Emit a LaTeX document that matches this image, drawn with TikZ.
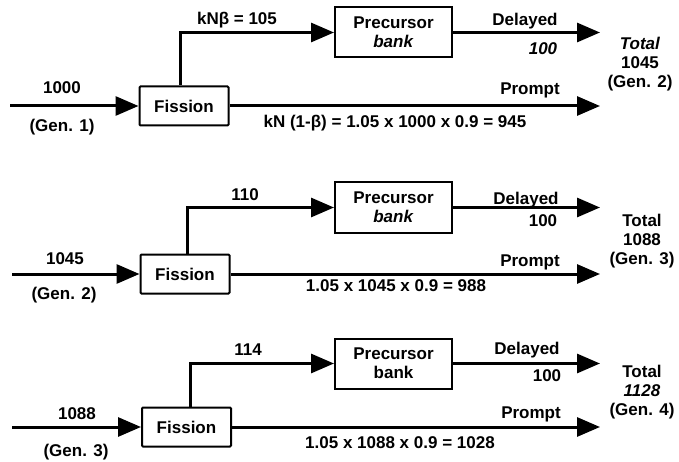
\documentclass[tikz,border=0pt]{standalone}
\usepackage{fontspec}
\setmainfont{Liberation Sans}
\usetikzlibrary{arrows.meta}
\begin{document}
\begin{tikzpicture}[x=1pt,y=-1pt,
  every node/.style={font=\fontsize{17}{19}\selectfont\bfseries},
  blk/.style={draw, line width=2pt, minimum height=39pt, minimum width=89pt, inner sep=0pt, rounded corners=1pt},
  pbox/.style={draw, line width=2pt, minimum height=50pt, minimum width=117pt, align=center, inner sep=0pt},
  flow/.style={line width=3pt, -{Triangle[length=23pt,width=19pt]}},
  lbl/.style={inner sep=0pt},
  tot/.style={inner sep=0pt, align=center}
]
\useasboundingbox (0,0) rectangle (679,462);
% ---------- Row 1 ----------
\node[blk] (f1) at (184,106) {Fission};
\node[pbox] (p1) at (393.5,32.5) {Precursor\\\textit{bank}};
\coordinate (i1) at (10,106);
\coordinate (b1) at (180,0);
\coordinate (d1) at (600,32.5);
\coordinate (o1) at (600,106);
\draw[flow] (i1) -- (f1.west);
\draw[flow] (f1.north -| b1) |- (p1.west);
\draw[flow] (p1.east) -- (d1);
\draw[flow] (f1.east) -- (o1);
\node[lbl] (l1a) at (237,20) {kNβ = 105};
\node[lbl] (l1b) at (62,88) {1000};
\node[lbl] (l1c) at (62,127) {(Gen. 1)};
\node[lbl] (l1d) at (395,123) {kN (1-β) = 1.05 x 1000 x 0.9 = 945};
\node[lbl] (l1e) at (530,90) {Prompt};
\node[lbl] (l1f) at (525,21) {Delayed};
\node[lbl] (l1g) at (543,49) {\textit{100}};
\node[tot] (t1) at (640,64) {\textit{Total}\\1045\\(Gen. 2)};
% ---------- Row 2 ----------
\node[blk] (f2) at (185,274) {Fission};
\node[pbox] (p2) at (393.5,207.5) {Precursor\\\textit{bank}};
\coordinate (i2) at (12,274);
\coordinate (b2) at (187,0);
\coordinate (d2) at (600,207.5);
\coordinate (o2) at (600,274);
\draw[flow] (i2) -- (f2.west);
\draw[flow] (f2.north -| b2) |- (p2.west);
\draw[flow] (p2.east) -- (d2);
\draw[flow] (f2.east) -- (o2);
\node[lbl] (l2a) at (245,195) {110};
\node[lbl] (l2b) at (65,259) {1045};
\node[lbl] (l2c) at (64,295) {(Gen. 2)};
\node[lbl] (l2d) at (396,286) {1.05 x 1045 x 0.9 = 988};
\node[lbl] (l2e) at (530,262) {Prompt};
\node[lbl] (l2f) at (526,200) {Delayed};
\node[lbl] (l2g) at (543,221) {100};
\node[tot] (t2) at (642,241) {Total\\1088\\(Gen. 3)};
% ---------- Row 3 ----------
\node[blk] (f3) at (186.5,427) {Fission};
\node[pbox] (p3) at (393.5,363.5) {Precursor\\bank};
\coordinate (i3) at (12,427);
\coordinate (b3) at (190,0);
\coordinate (d3) at (600,363.5);
\coordinate (o3) at (600,427);
\draw[flow] (i3) -- (f3.west);
\draw[flow] (f3.north -| b3) |- (p3.west);
\draw[flow] (p3.east) -- (d3);
\draw[flow] (f3.east) -- (o3);
\node[lbl] (l3a) at (248,350) {114};
\node[lbl] (l3b) at (77,414) {1088};
\node[lbl] (l3c) at (76,452) {(Gen. 3)};
\node[lbl] (l3d) at (400,443) {1.05 x 1088 x 0.9 = 1028};
\node[lbl] (l3e) at (531,414) {Prompt};
\node[lbl] (l3f) at (527,350) {Delayed};
\node[lbl] (l3g) at (547,376) {100};
\node[tot] (t3) at (642,392) {Total\\\textit{1128}\\(Gen. 4)};
\end{tikzpicture}
\end{document}
